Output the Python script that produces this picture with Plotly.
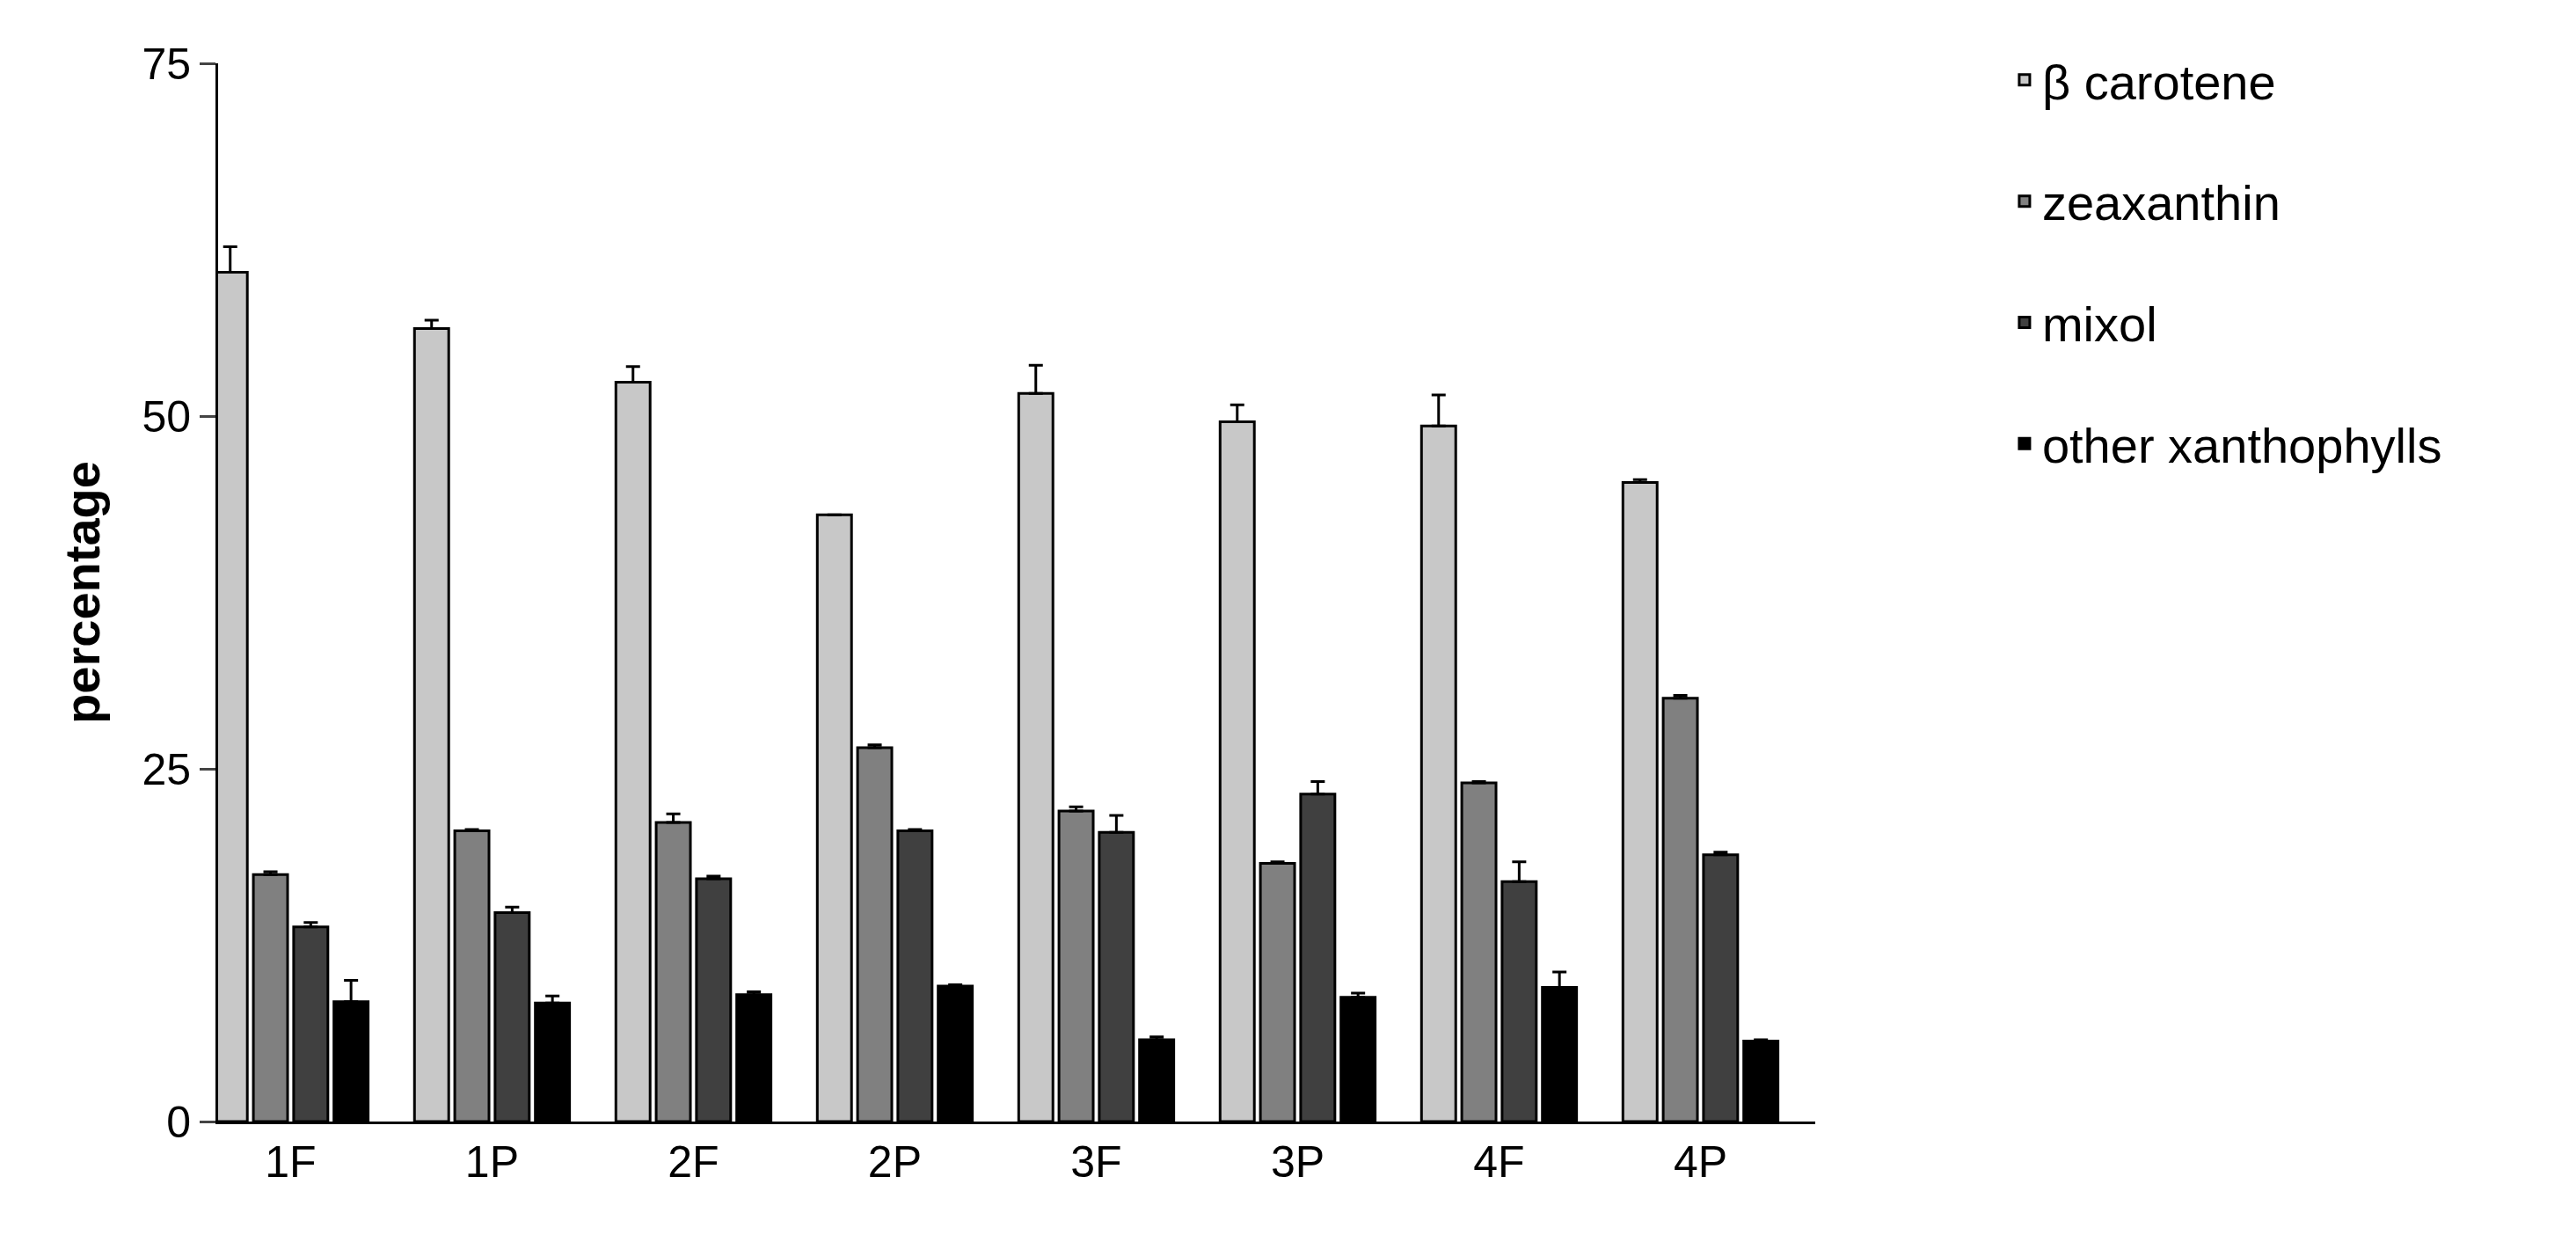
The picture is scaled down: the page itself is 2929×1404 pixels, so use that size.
import plotly.graph_objects as go

groups = ["1F", "1P", "2F", "2P", "3F", "3P", "4F", "4P"]
series = ["\u03b2 carotene", "zeaxanthin", "mixol", "other xanthophylls"]
colors = ["#c8c8c8", "#808080", "#404040", "#000000"]

beta = [60.2, 56.2, 52.4, 43.0, 51.6, 49.6, 49.3, 45.3]
beta_err = [1.8, 0.6, 1.1, 0.0, 2.0, 1.2, 2.2, 0.2]
zea = [17.5, 20.6, 21.2, 26.5, 22.0, 18.3, 24.0, 30.0]
zea_err = [0.2, 0.1, 0.6, 0.2, 0.3, 0.1, 0.1, 0.2]
mixol = [13.8, 14.8, 17.2, 20.6, 20.5, 23.2, 17.0, 18.9]
mixol_err = [0.3, 0.4, 0.2, 0.1, 1.2, 0.9, 1.4, 0.2]
other = [8.5, 8.4, 9.0, 9.6, 5.8, 8.8, 9.5, 5.7]
other_err = [1.5, 0.5, 0.2, 0.1, 0.2, 0.3, 1.1, 0.1]

values = [beta, zea, mixol, other]
errors = [beta_err, zea_err, mixol_err, other_err]

fig = go.Figure()
for name, color, y, err in zip(series, colors, values, errors):
    fig.add_trace(go.Bar(
        name=name, x=groups, y=y, legendgroup=name,
        marker=dict(color=color, line=dict(color="black", width=3)),
        error_y=dict(type="data", array=err, arrayminus=[0] * len(err), symmetric=False,
                     color="black", thickness=3, width=8),
    ))

fig.update_layout(
    width=2929, height=1404,
    paper_bgcolor="white", plot_bgcolor="white",
    barmode="group", bargap=0.2, bargroupgap=0.15,
    margin=dict(l=240, r=873, t=64, b=137),
    font=dict(family="Liberation Sans, Arial", size=50, color="black"),
    legend=dict(x=1.12, y=1.02, xanchor="left", yanchor="top",
                font=dict(size=56), tracegroupgap=62, traceorder="grouped"),
    showlegend=True,
)
fig.update_xaxes(range=[-0.36, 7.57], showline=True, linecolor="black", linewidth=3,
                 ticks="", showgrid=False)
fig.update_yaxes(range=[0, 75], tickvals=[0, 25, 50, 75], showline=True, linecolor="black",
                 linewidth=3, ticks="outside", ticklen=18, tickwidth=3, showgrid=False,
                 zeroline=False,
                 title=dict(text="<b>percentage</b>", font=dict(size=56), standoff=30))

fig.write_html("out.html")
